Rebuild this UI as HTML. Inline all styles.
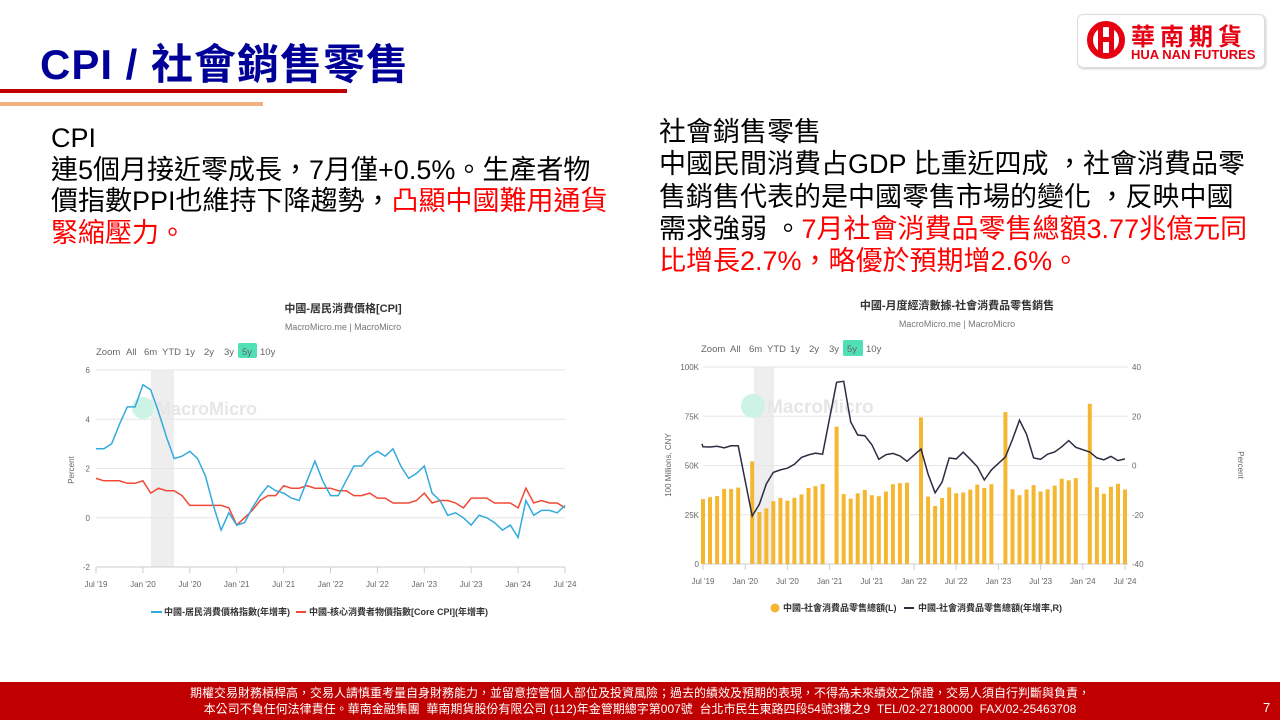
<!DOCTYPE html>
<html><head><meta charset="utf-8"><style>
body{margin:0;width:1280px;height:720px;background:#fff;position:relative;overflow:hidden;font-family:"Liberation Sans","Noto Sans CJK TC",sans-serif}
.t{position:absolute;white-space:nowrap}
.red{color:#ff0000}
</style></head><body>
<div class="t" style="left:40px;top:31px;font-size:42px;font-weight:bold;color:#000099;letter-spacing:1px">CPI / 社會銷售零售</div>
<div style="position:absolute;left:0;top:89px;width:347px;height:4px;background:#c00000"></div>
<div style="position:absolute;left:0;top:102px;width:263px;height:4px;background:#f4b183"></div>
<div style="position:absolute;left:1077px;top:14px;width:186px;height:52px;border:1px solid #ddd;border-radius:6px;background:#fff;box-shadow:1px 1px 2px #ccc"></div>
<svg class="t" style="left:1086px;top:20px" width="40" height="40" viewBox="0 0 40 40"><circle cx="20" cy="20" r="16" fill="none" stroke="#e60012" stroke-width="6"/><rect x="12" y="4" width="5" height="32" fill="#e60012"/><rect x="23" y="4" width="5" height="32" fill="#e60012"/><rect x="12" y="17" width="16" height="5" fill="#e60012"/></svg>
<div class="t" style="left:1131px;top:17px;font-size:24px;font-weight:bold;color:#e60012;letter-spacing:5px">華南期貨</div>
<div class="t" style="left:1131px;top:47px;font-size:13px;font-weight:bold;color:#e60012">HUA NAN FUTURES</div>

<div class="t" style="left:51px;top:123px;font-size:27px;line-height:31.5px;color:#000">CPI<br>連5個月接近零成長，7月僅+0.5%。生產者物<br>價指數PPI也維持下降趨勢，<span class="red">凸顯中國難用通貨</span><br><span class="red">緊縮壓力。</span></div>
<div class="t" style="left:659px;top:116px;font-size:27px;line-height:32.3px;color:#000">社會銷售零售<br>中國民間消費占GDP 比重近四成 ，社會消費品零<br>售銷售代表的是中國零售市場的變化 ，反映中國<br>需求強弱 。<span class="red">7月社會消費品零售總額3.77兆億元同</span><br><span class="red">比增長2.7%，略優於預期增2.6%。</span></div>

<svg id="c1" class="t" style="left:0;top:0" width="1280" height="720" font-family="Liberation Sans,Noto Sans CJK TC,sans-serif"></svg>

<div style="position:absolute;left:0;top:682px;width:1280px;height:38px;background:#c00000"></div>
<div class="t" style="left:0;width:1280px;top:685px;text-align:center;color:#fff;font-size:12px;line-height:16px">期權交易財務槓桿高，交易人請慎重考量自身財務能力，並留意控管個人部位及投資風險；過去的績效及預期的表現，不得為未來績效之保證，交易人須自行判斷與負責，<br>本公司不負任何法律責任。華南金融集團&nbsp; 華南期貨股份有限公司 (112)年金管期總字第007號&nbsp; 台北市民生東路四段54號3樓之9&nbsp; TEL/02-27180000&nbsp; FAX/02-25463708</div>
<div class="t" style="left:1263px;top:700px;color:#fff;font-size:13px">7</div>

<script>
var s='';
function T(x,y,t,o){s+='<text x="'+x+'" y="'+y+'" '+(o||'')+'>'+t+'</text>';}
// ===== Chart 1 =====
var x0=96,x1=565,y6=370,yn=567,u=(yn-y6)/8;
function Y1(v){return y6+(6-v)*u;}
s+='<rect x="151" y="370" width="23" height="197" fill="#eee"/>';
for(var v=-2;v<=6;v+=2){var y=Y1(v);s+='<line x1="'+x0+'" x2="'+x1+'" y1="'+y+'" y2="'+y+'" stroke="'+(v==-2?'#ccc':'#e6e6e6')+'"/>';T(90,y+3,v,'font-size="8" fill="#666" text-anchor="end"');}
T(343,312,'中國-居民消費價格[CPI]','font-size="11" fill="#333" text-anchor="middle" font-weight="bold"');
T(343,330,'MacroMicro.me | MacroMicro','font-size="9" fill="#777" text-anchor="middle"');
var zs=[['Zoom',96],['All',126],['6m',144],['YTD',162],['1y',185],['2y',204],['3y',224],['5y',242],['10y',260]];
s+='<rect x="238" y="343" width="19" height="15" fill="#4fe0b8" rx="2"/>';
zs.forEach(function(z){T(z[1],355,z[0],'font-size="9.5" fill="#666"');});
s+='<circle cx="143" cy="408" r="11" fill="#cdf2e6"/>';T(156,415,'MacroMicro','font-size="18" fill="#e6e6e6" font-weight="bold"');
T(74,470,'Percent','font-size="8" fill="#666" transform="rotate(-90 74 470)" text-anchor="middle"');
var lab=["Jul '19","Jan '20","Jul '20","Jan '21","Jul '21","Jan '22","Jul '22","Jan '23","Jul '23","Jan '24","Jul '24"];
var st=(x1-x0)/60;
lab.forEach(function(l,i){var x=x0+i*6*st;s+='<line x1="'+x+'" x2="'+x+'" y1="567" y2="573" stroke="#ccc"/>';T(x,587,l,'font-size="8" fill="#666" text-anchor="middle"');});
var cpi=[2.8,2.8,3.0,3.8,4.5,4.5,5.4,5.2,4.3,3.3,2.4,2.5,2.7,2.4,1.7,0.5,-0.5,0.2,-0.3,-0.2,0.4,0.9,1.3,1.1,1.0,0.8,0.7,1.5,2.3,1.5,0.9,0.9,1.5,2.1,2.1,2.5,2.7,2.5,2.8,2.1,1.6,1.8,2.1,1.0,0.7,0.1,0.2,0.0,-0.3,0.1,0.0,-0.2,-0.5,-0.3,-0.8,0.7,0.1,0.3,0.3,0.2,0.5];
var core=[1.6,1.5,1.5,1.5,1.4,1.4,1.5,1.0,1.2,1.1,1.1,0.9,0.5,0.5,0.5,0.5,0.5,0.4,-0.3,0.0,0.3,0.7,0.9,0.9,1.3,1.2,1.2,1.3,1.2,1.2,1.2,1.1,1.1,0.9,0.9,1.0,0.8,0.8,0.6,0.6,0.6,0.7,1.0,0.6,0.7,0.7,0.6,0.4,0.8,0.8,0.8,0.6,0.6,0.6,0.4,1.2,0.6,0.7,0.6,0.6,0.4];
function P(a,f){return a.map(function(v,i){return (x0+i*st).toFixed(1)+','+f(v).toFixed(1);}).join(' ');}
s+='<polyline fill="none" stroke="#f04a36" stroke-width="1.5" points="'+P(core,Y1)+'"/>';
s+='<polyline fill="none" stroke="#33aadd" stroke-width="1.5" points="'+P(cpi,Y1)+'"/>';
s+='<line x1="151" x2="162" y1="612" y2="612" stroke="#33aadd" stroke-width="2"/>';T(164,615,'中國-居民消費價格指數(年增率)','font-size="9" fill="#333" font-weight="bold"');
s+='<line x1="296" x2="306" y1="612" y2="612" stroke="#f04a36" stroke-width="2"/>';T(309,615,'中國-核心消費者物價指數[Core CPI](年增率)','font-size="9" fill="#333" font-weight="bold"');
// ===== Chart 2 =====
var a0=703,a1=1125,yt=367,yb=564,h=yb-yt,st2=(a1-a0)/60;
s+='<rect x="754" y="367" width="20" height="197" fill="#eee"/>';
var ll=['0','25K','50K','75K','100K'],rr=['-40','-20','0','20','40'];
for(var i=0;i<5;i++){var y=yb-i*h/4;s+='<line x1="'+a0+'" x2="1128" y1="'+y+'" y2="'+y+'" stroke="'+(i==0?'#ccc':'#e6e6e6')+'"/>';T(699,y+3,ll[i],'font-size="8" fill="#666" text-anchor="end"');T(1132,y+3,rr[i],'font-size="8" fill="#666"');}
T(957,309,'中國-月度經濟數據-社會消費品零售銷售','font-size="11" fill="#333" text-anchor="middle" font-weight="bold"');
T(957,327,'MacroMicro.me | MacroMicro','font-size="9" fill="#777" text-anchor="middle"');
var zs2=[['Zoom',701],['All',730],['6m',749],['YTD',767],['1y',790],['2y',809],['3y',829],['5y',847],['10y',866]];
s+='<rect x="843" y="340" width="20" height="16" fill="#4fe0b8" rx="2"/>';
zs2.forEach(function(z){T(z[1],352,z[0],'font-size="9.5" fill="#666"');});
s+='<circle cx="753" cy="406" r="12" fill="#cdf2e6"/>';T(767,413,'MacroMicro','font-size="19" fill="#e6e6e6" font-weight="bold"');
T(671,465,'100 Millions, CNY','font-size="8" fill="#666" transform="rotate(-90 671 465)" text-anchor="middle"');
T(1238,465,'Percent','font-size="8" fill="#666" transform="rotate(90 1238 465)" text-anchor="middle"');
lab.forEach(function(l,i){var x=a0+i*6*st2;s+='<line x1="'+x+'" x2="'+x+'" y1="564" y2="570" stroke="#ccc"/>';T(x,584,l,'font-size="8" fill="#666" text-anchor="middle"');});
var bars=[33,33.9,34.5,38.1,38.1,38.8,null,52.1,26.4,28.2,31.9,33.5,32.2,33.6,35.3,38.6,39.5,40.6,null,69.7,35.5,33.2,35.9,37.6,34.9,34.4,36.8,40.5,41.0,41.3,null,74.4,34.2,29.5,33.5,38.9,35.9,36.3,37.7,40.3,38.6,40.5,null,77.1,37.9,34.9,37.8,40.0,36.8,37.9,39.8,43.3,42.5,43.6,null,81.3,39.0,35.7,39.2,40.7,37.8];
var yoy=[8.8,7.6,7.5,7.8,7.2,8.0,8.0,null,-20.5,-15.8,-7.5,-2.8,-1.8,-1.1,0.5,3.3,4.3,5.0,4.6,null,33.8,34.2,17.7,12.4,12.1,8.5,2.5,4.4,4.9,3.9,1.7,null,6.7,-3.5,-11.1,-6.7,3.1,2.7,5.4,2.5,-0.5,-5.9,-1.8,null,3.5,10.6,18.4,12.7,3.1,2.5,4.6,5.5,7.6,10.1,7.4,null,5.5,3.1,2.3,3.7,2.0,2.7];
bars.forEach(function(v,i){if(v==null)return;var x=a0+i*st2;var hh=v/100*h;s+='<rect x="'+(x-2).toFixed(1)+'" y="'+(yb-hh).toFixed(1)+'" width="4" height="'+hh.toFixed(1)+'" fill="#f5b731"/>';});
var pts=[];yoy.forEach(function(v,i){if(v==null)return;var x=a0+(i-1)*st2;if(i==0)x=a0-1;pts.push(x.toFixed(1)+','+(465.5-v*h/80).toFixed(1));});
s+='<polyline fill="none" stroke="#2b2d42" stroke-width="1.5" points="'+pts.join(' ')+'"/>';
s+='<circle cx="775" cy="608" r="4.5" fill="#f5b731"/>';T(783,611,'中國-社會消費品零售總額(L)','font-size="9" fill="#333" font-weight="bold"');
s+='<line x1="904" x2="914" y1="608" y2="608" stroke="#2b2d42" stroke-width="2"/>';T(918,611,'中國-社會消費品零售總額(年增率,R)','font-size="9" fill="#333" font-weight="bold"');
document.getElementById('c1').innerHTML=s;
</script>
</body></html>
